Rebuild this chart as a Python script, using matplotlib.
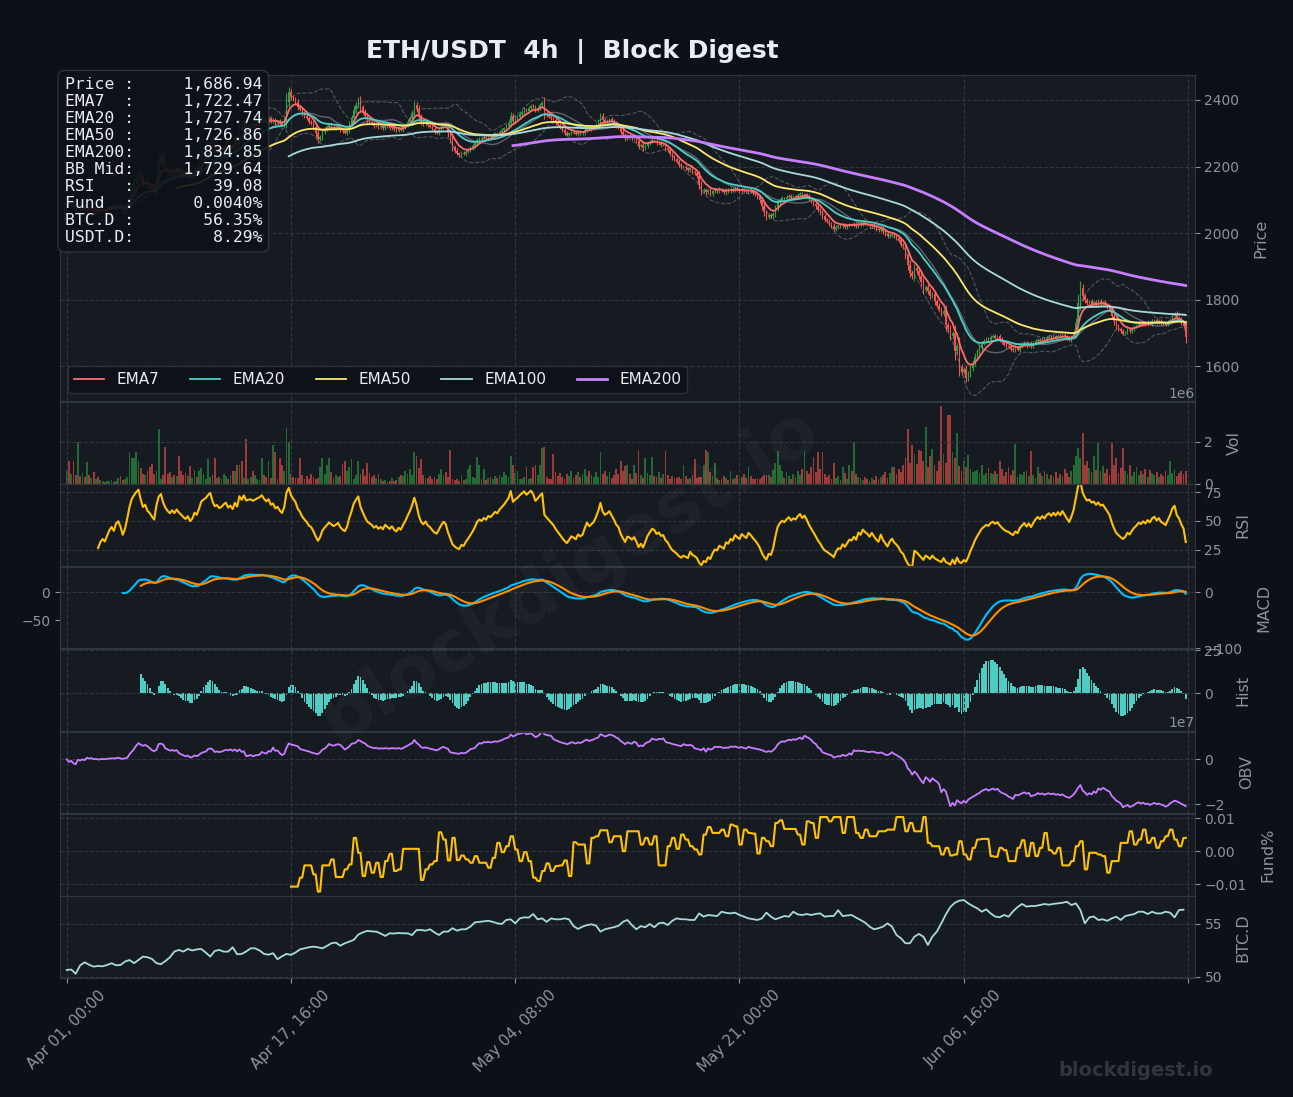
import numpy as np
import pandas as pd
import matplotlib
matplotlib.use('Agg')
import matplotlib.pyplot as plt

BG = '#0d1117'
PANEL = '#161b22'
GRID = '#30363d'
TXT = '#8b949e'
UP = '#2ea043'
DN = '#f85149'

# 4h closes, Apr 01 onwards
close = [
    2092, 2088, 2095, 2083, 2078, 2085, 2074, 2080, 2071, 2076,
    2068, 2073, 2065, 2070, 2062, 2068, 2071, 2066, 2072, 2078,
    2082, 2076, 2085, 2088, 2080, 2066, 2074, 2090, 2115, 2140,
    2155, 2170, 2182, 2165, 2150, 2158, 2145, 2140, 2132, 2125,
    2170, 2215, 2232, 2210, 2195, 2185, 2178, 2190, 2182, 2196,
    2188, 2182, 2175, 2170, 2178, 2165, 2172, 2190, 2185, 2205,
    2235, 2245, 2252, 2268, 2280, 2262, 2250, 2255, 2248, 2252,
    2262, 2268, 2258, 2265, 2258, 2280, 2272, 2318, 2310, 2334,
    2322, 2326, 2328, 2325, 2330, 2335, 2340, 2348, 2342, 2338,
    2345, 2336, 2340, 2332, 2336, 2330, 2326, 2340, 2395, 2425,
    2410, 2402, 2395, 2380, 2372, 2360, 2352, 2345, 2335, 2330,
    2318, 2300, 2282, 2290, 2305, 2312, 2318, 2325, 2320, 2315,
    2318, 2322, 2312, 2306, 2302, 2310, 2328, 2345, 2370, 2385,
    2400, 2378, 2365, 2352, 2340, 2335, 2330, 2322, 2326, 2318,
    2322, 2316, 2325, 2320, 2315, 2320, 2312, 2308, 2314, 2310,
    2318, 2325, 2335, 2345, 2360, 2385, 2372, 2350, 2335, 2328,
    2335, 2325, 2320, 2312, 2305, 2302, 2310, 2318, 2325, 2320,
    2300, 2282, 2258, 2248, 2240, 2235, 2242, 2238, 2245, 2250,
    2256, 2262, 2270, 2280, 2285, 2282, 2288, 2285, 2292, 2290,
    2295, 2300, 2298, 2305, 2310, 2315, 2322, 2330, 2352, 2338,
    2345, 2350, 2358, 2365, 2372, 2368, 2375, 2382, 2378, 2370,
    2376, 2385, 2392, 2360, 2355, 2350, 2345, 2340, 2332, 2325,
    2318, 2310, 2302, 2296, 2300, 2305, 2302, 2298, 2304, 2300,
    2302, 2310, 2318, 2312, 2315, 2318, 2325, 2335, 2352, 2340,
    2335, 2338, 2342, 2336, 2330, 2322, 2318, 2305, 2295, 2285,
    2292, 2290, 2285, 2288, 2278, 2262, 2266, 2255, 2262, 2270,
    2275, 2280, 2278, 2270, 2272, 2265, 2266, 2255, 2250, 2238,
    2228, 2222, 2215, 2205, 2198, 2200, 2195, 2190, 2196, 2185,
    2180, 2172, 2145, 2125, 2130, 2122, 2128, 2118, 2125, 2130,
    2126, 2132, 2128, 2122, 2130, 2126, 2132, 2128, 2135, 2130,
    2126, 2132, 2128, 2124, 2130, 2126, 2120, 2115, 2108, 2098,
    2080, 2062, 2048, 2055, 2050, 2058, 2075, 2092, 2100, 2105,
    2102, 2108, 2112, 2106, 2110, 2108, 2114, 2118, 2112, 2116,
    2110, 2102, 2095, 2088, 2080, 2070, 2062, 2050, 2040, 2035,
    2028, 2022, 2012, 2018, 2022, 2020, 2025, 2018, 2022, 2026,
    2024, 2028, 2022, 2030, 2026, 2032, 2028, 2025, 2020, 2024,
    2018, 2012, 2008, 2015, 2005, 1998, 1990, 1995, 1998, 1990,
    1985, 1978, 1965, 1958, 1935, 1905, 1880, 1870, 1895, 1885,
    1870, 1852, 1830, 1838, 1825, 1810, 1816, 1795, 1782, 1770,
    1758, 1765, 1725, 1712, 1690, 1700, 1645, 1660, 1598, 1582,
    1590, 1565, 1578, 1595, 1610, 1628, 1642, 1655, 1668, 1675,
    1682, 1678, 1688, 1692, 1685, 1690, 1680, 1672, 1665, 1660,
    1658, 1652, 1648, 1655, 1650, 1660, 1665, 1670, 1662, 1668,
    1660, 1668, 1675, 1680, 1676, 1682, 1678, 1685, 1688, 1684,
    1690, 1686, 1692, 1688, 1695, 1690, 1685, 1680, 1688, 1700,
    1730, 1790, 1835, 1810, 1798, 1790, 1795, 1788, 1792, 1785,
    1795, 1788, 1792, 1785, 1778, 1770, 1752, 1735, 1720, 1712,
    1705, 1698, 1702, 1710, 1705, 1712, 1718, 1722, 1728, 1725,
    1730, 1726, 1732, 1728, 1735, 1738, 1732, 1736, 1730, 1728,
    1725, 1732, 1740, 1752, 1758, 1745, 1740, 1730, 1722, 1686.94,
]

# volume per bar, in units of 10k
volume_10k = [
    60, 110, 45, 110, 40, 200, 35, 50, 30, 105,
    40, 25, 55, 20, 30, 15, 10, 8, 12, 10,
    15, 8, 10, 25, 35, 15, 20, 30, 150, 120,
    120, 150, 110, 75, 45, 40, 60, 80, 95, 45,
    60, 260, 20, 40, 175, 45, 55, 30, 40, 35,
    130, 60, 40, 50, 35, 85, 25, 65, 30, 60,
    75, 45, 20, 115, 30, 40, 120, 25, 30, 20,
    45, 35, 20, 40, 60, 60, 90, 90, 110, 25,
    215, 20, 30, 60, 40, 20, 15, 120, 40, 30,
    110, 25, 185, 150, 20, 120, 90, 60, 265, 200,
    45, 30, 25, 25, 120, 40, 20, 35, 20, 45,
    30, 20, 25, 80, 120, 45, 90, 120, 55, 25,
    40, 30, 35, 95, 110, 60, 80, 115, 20, 40,
    110, 45, 70, 35, 100, 50, 30, 40, 25, 45,
    20, 10, 15, 8, 12, 25, 10, 15, 30, 40,
    35, 60, 45, 70, 40, 150, 130, 75, 115, 40,
    25, 25, 35, 20, 30, 20, 45, 70, 40, 55,
    30, 160, 20, 15, 20, 10, 40, 15, 20, 70,
    90, 30, 25, 125, 90, 20, 70, 15, 25, 30,
    20, 35, 25, 40, 30, 55, 40, 30, 130, 90,
    50, 60, 20, 20, 30, 80, 20, 25, 80, 90,
    40, 90, 170, 175, 30, 20, 20, 140, 55, 35,
    50, 30, 20, 45, 35, 60, 25, 40, 55, 30,
    45, 70, 35, 60, 40, 30, 55, 30, 150, 45,
    60, 35, 55, 25, 40, 70, 45, 110, 60, 85,
    90, 45, 20, 90, 50, 160, 40, 25, 120, 50,
    40, 125, 35, 30, 55, 25, 45, 155, 40, 20,
    35, 25, 25, 30, 20, 90, 35, 20, 25, 40,
    115, 25, 30, 30, 90, 160, 150, 55, 35, 100,
    25, 15, 20, 35, 25, 15, 60, 20, 25, 40,
    20, 30, 45, 25, 80, 35, 20, 20, 25, 20,
    30, 40, 40, 40, 30, 65, 100, 155, 90, 60,
    25, 55, 35, 20, 45, 30, 60, 40, 70, 155,
    60, 45, 80, 125, 55, 150, 70, 150, 45, 30,
    40, 20, 100, 25, 35, 15, 80, 50, 20, 90,
    60, 200, 45, 30, 25, 15, 30, 20, 10, 25,
    15, 35, 20, 30, 40, 55, 25, 50, 80, 80,
    45, 70, 55, 90, 120, 260, 100, 185, 140, 95,
    160, 155, 110, 270, 80, 130, 165, 90, 60, 110,
    370, 140, 100, 330, 330, 150, 120, 240, 85, 60,
    110, 80, 135, 70, 55, 60, 65, 50, 90, 40,
    50, 75, 50, 45, 60, 45, 110, 70, 35, 55,
    80, 40, 65, 190, 30, 45, 40, 55, 60, 35,
    155, 40, 25, 80, 50, 35, 60, 45, 20, 40,
    30, 55, 25, 45, 35, 70, 50, 30, 60, 90,
    130, 170, 120, 240, 90, 110, 75, 55, 130, 65,
    200, 60, 85, 50, 70, 40, 200, 90, 120, 50,
    75, 170, 60, 45, 90, 35, 55, 80, 40, 60,
    45, 70, 30, 65, 50, 40, 55, 30, 45, 35,
    60, 40, 110, 50, 70, 35, 50, 60, 45, 60,
]

# funding rate (%), one value per 8h from bar 100
funding = [
    -0.0107, -0.0107, -0.008, -0.0043, -0.0043, -0.007, -0.0122, -0.0043, -0.0043, -0.0025,
    -0.0078, -0.0078, -0.0055, -0.004, 0.004, -0.0005, -0.0075, -0.0033, -0.0065, -0.0035,
    -0.0078, -0.003, -0.0008, -0.006, -0.0055, 0.0007, 0.0007, 0.0007, 0.0007, -0.0087,
    -0.0055, -0.004, -0.003, 0.0057, 0.0035, -0.0028, 0.004, -0.0027, -0.0013, -0.0025,
    -0.0035, -0.0015, -0.0035, -0.0035, -0.005, -0.002, 0.0025, -0.0003, 0.0015, 0.0045,
    0.0005, -0.003, -0.0003, -0.003, -0.008, -0.009, -0.006, -0.0037, -0.006, -0.0045,
    -0.0043, -0.0028, -0.0075, 0.0027, 0.002, 0.002, -0.0037, 0.004, 0.0045, 0.0063,
    0.0063, 0.0027, 0.0045, 0.0045, 0.0, 0.006, 0.006, 0.006, 0.002, 0.004,
    0.002, 0.0045, -0.0043, -0.0043, 0.0015, 0.004, 0.0007, 0.005, 0.0035, 0.0015,
    0.0005, -0.001, 0.005, 0.0073, 0.0055, 0.0055, 0.0065, 0.0045, 0.008, 0.0075,
    0.002, 0.0065, 0.0055, 0.0053, -0.0007, 0.004, 0.003, 0.0015, 0.0085, 0.0093,
    0.0067, 0.0067, 0.0067, 0.005, 0.002, 0.009, 0.0085, 0.004, 0.0103, 0.0103,
    0.009, 0.0103, 0.0103, 0.0055, 0.0103, 0.0103, 0.0055, 0.004, 0.0065, 0.0045,
    0.0045, 0.006, 0.006, 0.0065, 0.0065, 0.0103, 0.0103, 0.006, 0.0085, 0.006,
    0.006, 0.0103, 0.0025, 0.0015, 0.0015, -0.001, 0.001, -0.0013, -0.001, 0.003,
    -0.001, -0.0025, 0.001, 0.0035, 0.0037, 0.0037, -0.0015, -0.0017, 0.001, 0.0003,
    -0.003, -0.003, 0.001, 0.0033, -0.0015, 0.0025, -0.0015, 0.001, 0.0055, 0.0003,
    -0.0007, 0.001, -0.0043, -0.0043, -0.003, 0.0015, 0.003, -0.0055, -0.0005, -0.0005,
    -0.001, -0.0015, -0.0065, -0.003, -0.003, 0.0025, 0.0025, 0.006, 0.002, 0.0035,
    0.0065, 0.0025, 0.004, 0.001, 0.003, 0.0045, 0.0065, 0.0035, 0.0015, 0.004,
]
fund_start = 100

# BTC dominance (%), every 2 bars
btc_dom = [
    50.66, 50.7, 50.3, 51.1, 51.38, 51.15, 50.97, 51.04, 51.0, 51.13,
    51.29, 51.1, 51.13, 51.45, 51.6, 51.3, 51.6, 51.92, 51.86, 51.7,
    51.3, 51.2, 51.5, 51.85, 52.39, 52.55, 52.39, 52.64, 52.5, 52.6,
    52.64, 52.3, 51.92, 52.45, 52.55, 52.39, 52.39, 52.8, 52.14, 52.17,
    52.4, 52.7, 52.7, 52.5, 52.17, 52.1, 52.24, 51.67, 51.95, 52.17,
    52.08, 52.3, 52.6, 52.7, 52.8, 52.86, 52.8, 52.7, 52.92, 53.18,
    53.24, 52.95, 53.18, 53.33, 53.5, 54.0, 54.2, 54.35, 54.3, 54.28,
    54.1, 53.87, 54.12, 54.1, 54.15, 54.12, 54.12, 53.95, 54.43, 54.43,
    54.37, 54.5, 54.2, 53.96, 54.28, 54.28, 54.6, 54.37, 54.5, 54.5,
    54.75, 55.15, 55.2, 55.25, 55.3, 55.2, 55.06, 55.0, 55.38, 55.44,
    55.06, 55.53, 55.63, 55.6, 55.94, 55.44, 55.53, 55.2, 55.53, 55.44,
    55.44, 55.53, 55.44, 54.8, 54.53, 54.75, 54.9, 54.97, 54.85, 54.28,
    54.5, 54.6, 54.7, 54.82, 55.2, 55.38, 54.9, 54.5, 54.8, 54.69,
    55.0, 54.69, 55.06, 55.13, 54.9, 55.3, 55.53, 55.45, 55.44, 55.38,
    55.38, 56.0, 55.69, 55.85, 55.8, 55.75, 56.16, 56.05, 56.0, 56.07,
    55.85, 55.69, 55.53, 55.45, 55.38, 55.53, 56.07, 55.69, 55.44, 55.6,
    55.75, 55.69, 56.16, 55.9, 55.85, 55.94, 55.85, 55.95, 56.0, 55.69,
    55.75, 55.75, 56.3, 55.75, 55.8, 55.85, 55.6, 55.38, 55.13, 54.75,
    54.5, 54.6, 54.75, 55.06, 54.75, 53.96, 53.65, 53.18, 53.18, 53.8,
    54.06, 53.8, 53.02, 53.8, 54.28, 55.06, 55.9, 56.6, 57.0, 57.2,
    57.26, 56.95, 56.7, 56.48, 56.16, 56.38, 56.0, 55.7, 55.63, 55.85,
    55.69, 56.2, 56.6, 56.89, 56.64, 56.7, 56.7, 56.79, 56.89, 56.82,
    56.9, 56.95, 57.0, 57.1, 56.79, 56.95, 56.32, 55.06, 55.63, 55.7,
    55.38, 55.44, 55.3, 55.53, 55.69, 55.38, 55.75, 55.85, 55.94, 56.16,
    56.16, 55.94, 56.16, 56.0, 56.0, 56.16, 56.07, 55.63, 56.32, 56.35,
]

info_labels = ['Price', 'EMA7', 'EMA20', 'EMA50', 'EMA200', 'BB Mid',
               'RSI', 'Fund', 'BTC.D', 'USDT.D']
info_values = ['1,686.94', '1,722.47', '1,727.74', '1,726.86', '1,834.85',
               '1,729.64', '39.08', '0.0040%', '56.35%', '8.29%']

ema_spans = [7, 20, 50, 100, 200]
ema_colors = ['#ff6b6b', '#4ecdc4', '#ffe66d', '#a8dadc', '#c77dff']

# ---- derived series ----
n = len(close)
x = np.arange(n)
dates = pd.date_range('2023-04-01', periods=n, freq='4h')
c = pd.Series(close, dtype=float)
o = c.shift(1).fillna(c.iloc[0])
vol = pd.Series(volume_10k, dtype=float) * 1e4
body_top = np.maximum(o, c)
body_bot = np.minimum(o, c)
wick = 0.4 * (c - o).abs() + 3
hi = body_top + wick
lo = body_bot - wick
is_up = (c >= o).values
cols = np.where(is_up, UP, DN)

emas = {s: c.ewm(span=s, adjust=False, min_periods=s).mean() for s in ema_spans}
bb_mid = c.rolling(20).mean()
bb_std = c.rolling(20).std()

delta = c.diff()
gain = delta.clip(lower=0).ewm(alpha=1 / 14, adjust=False, min_periods=14).mean()
loss = (-delta.clip(upper=0)).ewm(alpha=1 / 14, adjust=False, min_periods=14).mean()
rsi = 100 - 100 / (1 + gain / loss)

macd = c.ewm(span=12, adjust=False, min_periods=12).mean() - c.ewm(span=26, adjust=False, min_periods=26).mean()
signal = macd.ewm(span=9, adjust=False, min_periods=9).mean()
hist = macd - signal

obv = (np.sign(delta.fillna(0)) * vol).cumsum()

fund = np.repeat(funding, 2)
fund_x = np.arange(fund_start, fund_start + len(fund))
btc_x = np.arange(0, 2 * len(btc_dom), 2)

# ---- figure ----
fig = plt.figure(figsize=(12.93, 10.97), dpi=100, facecolor=BG)
gs = fig.add_gridspec(8, 1, height_ratios=[4, 1, 1, 1, 1, 1, 1, 1], hspace=0.008,
                      left=0.0464, right=0.924, top=0.9316, bottom=0.1085)
ax_p = fig.add_subplot(gs[0])
axes = [ax_p] + [fig.add_subplot(gs[i], sharex=ax_p) for i in range(1, 8)]
ax_p, ax_v, ax_r, ax_m, ax_h, ax_o, ax_f, ax_b = axes

for ax in axes:
    ax.set_facecolor(PANEL)
    ax.grid(True, color=GRID, ls='--', lw=0.8)
    ax.yaxis.tick_right()
    ax.yaxis.set_label_position('right')
    ax.tick_params(colors=TXT, labelsize=10)
    for s in ax.spines.values():
        s.set_color(GRID)
    ax.yaxis.get_offset_text().set_color(TXT)
    ax.yaxis.get_offset_text().set_fontsize(10)
for ax in axes[:-1]:
    ax.tick_params(labelbottom=False)

ylab = dict(color=TXT, fontsize=11.5, labelpad=10)

# price
ax_p.vlines(x, lo, hi, color=cols, lw=0.8, zorder=2)
ax_p.bar(x, np.maximum(body_top - body_bot, 1.0), bottom=body_bot, width=0.6, color=cols, zorder=2)
ax_p.plot(x, bb_mid + 2 * bb_std, color=TXT, ls='--', lw=0.8, alpha=0.5, zorder=3)
ax_p.plot(x, bb_mid - 2 * bb_std, color=TXT, ls='--', lw=0.8, alpha=0.5, zorder=3)
ax_p.plot(x, bb_mid, color=TXT, lw=1.0, alpha=0.6, zorder=3)
for s, col in zip(ema_spans, ema_colors):
    ax_p.plot(x, emas[s], color=col, lw=2.0 if s == 200 else 1.3, label=f'EMA{s}', zorder=4)
ax_p.set_ylim(1495, 2475)
ax_p.set_yticks([1600, 1800, 2000, 2200, 2400])
ax_p.set_ylabel('Price', **ylab)
ax_p.legend(loc='lower left', ncol=5, fontsize=11, facecolor=BG, edgecolor=GRID,
            framealpha=0.9, labelcolor='#e6edf3')

info = '\n'.join(f'{l:<6}:{v:>13}' for l, v in zip(info_labels, info_values))
ax_p.text(0.004, 0.994, info, transform=ax_p.transAxes, family='DejaVu Sans Mono',
          fontsize=11.8, color='#e6edf3', va='top', ha='left', linespacing=1.17, zorder=10,
          bbox=dict(boxstyle='round,pad=0.4', fc=BG, ec=GRID, alpha=0.9))

# volume
ax_v.bar(x, vol, width=0.8, color=cols, alpha=0.6)
ax_v.set_ylim(0, 3.9e6)
ax_v.set_yticks([0, 2e6])
ax_v.set_ylabel('Vol', **ylab)

# rsi
ax_r.plot(x, rsi, color='#ffc107', lw=1.5)
ax_r.set_ylim(10.7, 82)
ax_r.set_yticks([25, 50, 75])
ax_r.set_ylabel('RSI', **ylab)

# macd
ax_m.plot(x, macd, color='#00bfff', lw=1.5)
ax_m.plot(x, signal, color='#ff8c00', lw=1.5)
ax_m.set_ylim(-100, 45)
ax_m.set_yticks([-100, 0])
ax_m.set_ylabel('MACD', **ylab)
sec = ax_m.secondary_yaxis('left')
sec.set_yticks([-50, 0])
sec.tick_params(colors=TXT, labelsize=10)
for s in sec.spines.values():
    s.set_color(GRID)

# histogram
ax_h.bar(x, hist, width=0.8, color='#4ecdc4')
ax_h.set_ylim(-22, 25.6)
ax_h.set_yticks([0, 25])
ax_h.set_ylabel('Hist', **ylab)

# obv
ax_o.plot(x, obv, color='#c77dff', lw=1.3)
ax_o.set_ylim(-2.4e7, 1.24e7)
ax_o.set_yticks([-2e7, 0])
ax_o.set_ylabel('OBV', **ylab)

# funding
ax_f.plot(fund_x, fund, color='#ffc107', lw=1.5)
ax_f.set_ylim(-0.0134, 0.0112)
ax_f.set_yticks([-0.01, 0, 0.01])
ax_f.set_ylabel('Fund%', **ylab)

# btc dominance
ax_b.plot(btc_x, btc_dom, color='#a8dadc', lw=1.3)
ax_b.set_ylim(49.9, 57.6)
ax_b.set_yticks([50, 55])
ax_b.set_ylabel('BTC.D', **ylab)

ticks = list(range(0, 501, 100))
ax_b.set_xticks(ticks)
ax_b.set_xticklabels([dates[i].strftime('%b %d, %H:%M') if i < n else '' for i in ticks],
                     rotation=45, ha='center', color=TXT, fontsize=11)
ax_b.set_xlim(-3, 503)

fig.text(0.443, 0.9526, 'ETH/USDT  4h  |  Block Digest', fontsize=18, fontweight='bold',
         color='#e6edf3', ha='center', va='center')
fig.text(0.441, 0.476, 'blockdigest.io', fontsize=52, fontweight='bold', color='white',
         alpha=0.035, rotation=32, ha='center', va='center')
fig.text(0.878, 0.0246, 'blockdigest.io', fontsize=14, fontweight='bold', color=GRID,
         ha='center', va='center')

fig.savefig('out.png', dpi=100, facecolor=BG)
